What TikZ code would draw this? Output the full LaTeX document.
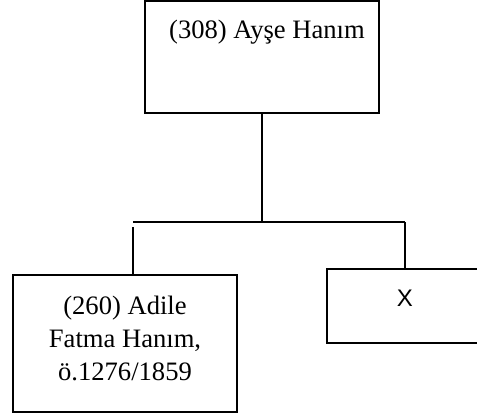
\documentclass[tikz,border=0pt]{standalone}
\usepackage{fontspec}
\setmainfont{Liberation Serif}
\newfontfamily\arialf{Liberation Sans}
\begin{document}
\begin{tikzpicture}[x=1pt,y=-1pt,
  box/.style={draw,line width=1.5pt,inner sep=0pt,rectangle},
  conn/.style={line width=1.5pt},
  lbl/.style={font=\fontsize{26.6}{33}\selectfont,inner sep=0pt,align=center}]
\useasboundingbox (0,0) rectangle (477,418);
\clip (0,0) rectangle (477,418);
\node[box,minimum width=234pt,minimum height=112pt] (top) at (262,57) {};
\node[lbl,anchor=base] (toptxt) at (267,38) {(308) Ayşe Hanım};
\node[box,minimum width=224pt,minimum height=137pt] (lbox) at (125,343.5) {};
\node[lbl] (ltxt) at (125,338) {(260) Adile\\Fatma Hanım,\\ö.1276/1859};
\node[box,minimum width=190pt,minimum height=74pt] (rbox) at (422,306) {};
\node[font=\arialf\fontsize{24}{28}\selectfont,inner sep=0pt] (rtxt) at (405,298.5) {X};
\coordinate (hl) at (133,222);
\coordinate (hr) at (405,222);
\draw[conn] (top.south) -- (top.south |- hl);
\draw[conn] (hl) -- (hr);
\draw[conn] (hr) -- (hr |- rbox.north);
\draw[conn] ([yshift=-5pt]hl) -- (hl |- lbox.north);
\end{tikzpicture}
\end{document}
